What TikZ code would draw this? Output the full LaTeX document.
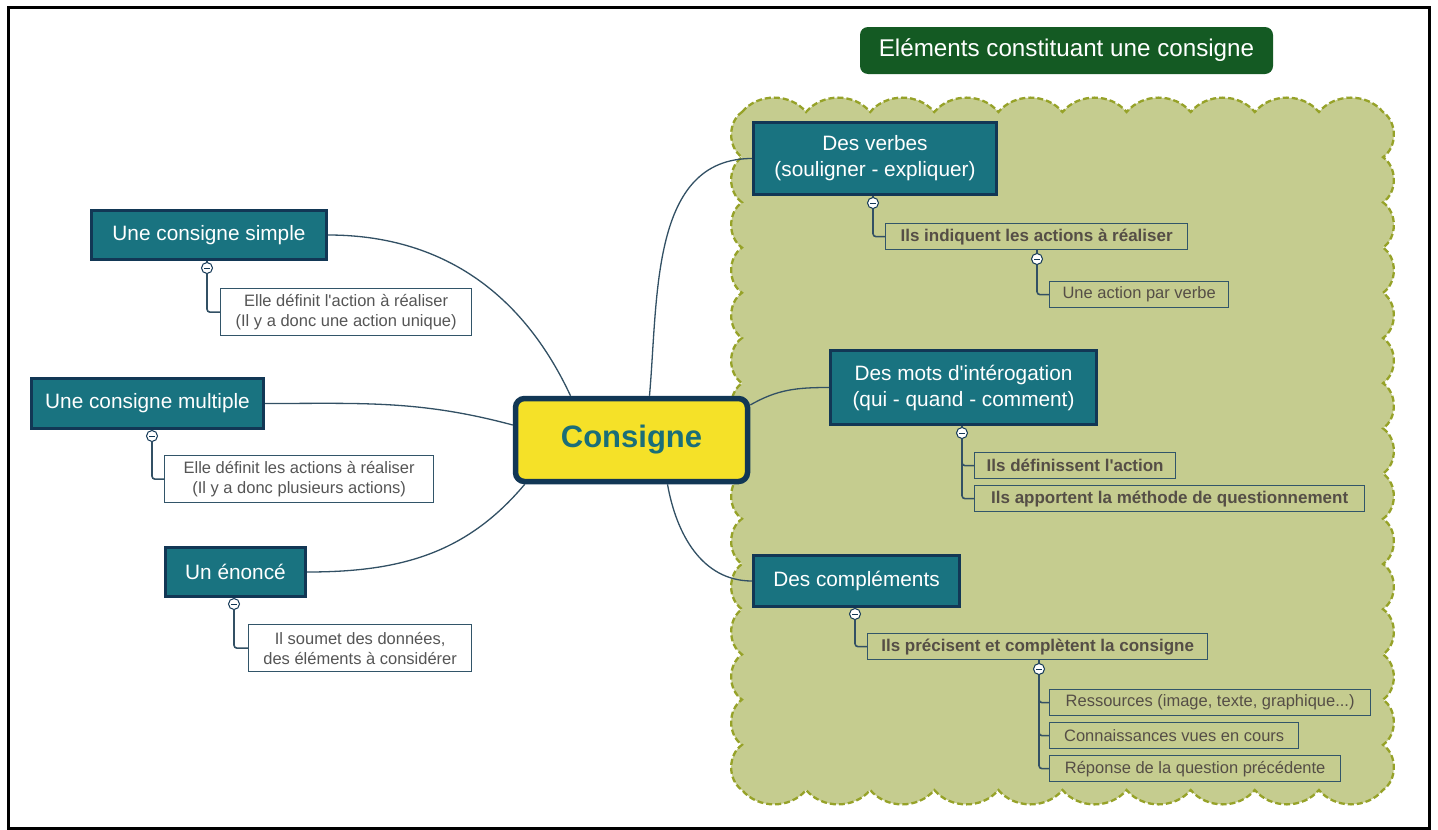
\documentclass[tikz,border=0pt]{standalone}
\usepackage{fontspec}
\setmainfont{Liberation Sans}[Ligatures=TeXOff]
\definecolor{tealfill}{RGB}{25,115,128}
\definecolor{navyb}{RGB}{18,55,85}
\definecolor{consyellow}{RGB}{245,225,40}
\definecolor{constext}{RGB}{26,110,120}
\definecolor{titlegreen}{RGB}{20,90,35}
\definecolor{cloudfill}{RGB}{197,204,143}
\definecolor{clouddash}{RGB}{150,162,40}
\definecolor{subborder}{RGB}{50,85,105}
\definecolor{subtext}{RGB}{85,85,85}
\definecolor{rsubtext}{RGB}{85,78,70}
\definecolor{connc}{RGB}{50,80,100}
\begin{document}
\begin{tikzpicture}[x=1pt,y=-1pt,
  mainbox/.style={draw=navyb, line width=5.5, fill=consyellow, rounded corners=9,
    minimum width=232, minimum height=83, inner sep=0, text=constext,
    font=\fontsize{31}{36}\selectfont\bfseries},
  branch/.style={draw=navyb, line width=3, fill=tealfill, text=white, inner sep=0,
    align=center, font=\fontsize{20.8}{26}\selectfont, anchor=north west},
  lsub/.style={draw=subborder, line width=1.3, fill=white, text=subtext, inner sep=0,
    align=center, font=\fontsize{16.5}{20}\selectfont, anchor=north west, minimum height=47},
  rsub/.style={draw=subborder, line width=1.3, text=rsubtext, inner sep=0,
    align=center, font=\fontsize{17}{20}\selectfont\bfseries, anchor=north west, minimum height=26},
  rsubn/.style={rsub, font=\fontsize{16.5}{20}\selectfont},
  titlebox/.style={fill=titlegreen, rounded corners=8, text=white, inner sep=0,
    minimum width=413, minimum height=47, font=\fontsize{24.2}{28}\selectfont},
  collapse/.style={circle, draw=navyb, line width=1, fill=white, minimum size=11, inner sep=0,
    path picture={\draw[navyb, line width=0.9] ([xshift=-2.6pt]path picture bounding box.center) -- ([xshift=2.6pt]path picture bounding box.center);}},
  conn/.style={draw=connc, line width=1.6, rounded corners=3},
  mainline/.style={draw=connc, line width=1.3}
]
\useasboundingbox (0,0) rectangle (1438,830);
\fill[white] (0,0) rectangle (1438,830);

% cloud
\filldraw[fill=cloudfill, draw=clouddash, line width=2.3, dash pattern=on 6pt off 3pt]
 (742,112) \foreach \k in {1,...,10}{ to[bend left=50] ++(64.1,0) }
 \foreach \k in {1,...,15}{ to[bend left=55] ++(0,45.2) }
 \foreach \k in {1,...,10}{ to[bend left=50] ++(-64.1,0) }
 \foreach \k in {1,...,15}{ to[bend left=55] ++(0,-45.2) } -- cycle;

% frame
\draw[line width=3] (8,7) rectangle (1429,828);

% title
\node[titlebox] (title) at (1066.5,50.5) {Eléments constituant une consigne};

% central node
\node[mainbox] (cons) at (631.5,440) {Consigne};

% left branches
\node[branch, minimum width=235, minimum height=49] (simple) at (90,209) {Une consigne simple};
\node[branch, minimum width=232, minimum height=50] (multi) at (30,377) {Une consigne multiple};
\node[branch, minimum width=140, minimum height=49] (enonce) at (164,546) {Un énoncé};

% right branches
\node[branch, minimum width=243, minimum height=72] (verbes) at (752,121) {Des verbes\\(souligner - expliquer)};
\node[branch, minimum width=266, minimum height=74] (mots) at (829,349) {Des mots d'intérogation\\(qui - quand - comment)};
\node[branch, minimum width=206, minimum height=51] (compl) at (752,554) {Des compléments};

% left subs
\node[lsub, minimum width=251] (s1) at (220,288) {Elle définit l'action à réaliser\\(Il y a donc une action unique)};
\node[lsub, minimum width=269] (s2) at (164,455) {Elle définit les actions à réaliser\\(Il y a donc plusieurs actions)};
\node[lsub, minimum width=223] (s3) at (248,624) {Il soumet des données,\\des éléments à considérer};

% right subs
\node[rsub, minimum width=302] (r1) at (885,223) {Ils indiquent les actions à réaliser};
\node[rsubn, minimum width=179] (r2) at (1049,281) {Une action par verbe};
\node[rsub, minimum width=201] (r3) at (974,452) {Ils définissent l'action};
\node[rsub, minimum width=390] (r4) at (974,485) {Ils apportent la méthode de questionnement};
\node[rsub, minimum width=340] (r5) at (867,633) {Ils précisent et complètent la consigne};
\node[rsubn, minimum width=321] (r6) at (1049,689) {Ressources (image, texte, graphique...)};
\node[rsubn, minimum width=249] (r7) at (1049,722) {Connaissances vues en cours};
\node[rsubn, minimum width=291] (r8) at (1049,755) {Réponse de la question précédente};

% collapse icons
\node[collapse] (c1) at (207,268) {};
\node[collapse] (c2) at (152,436) {};
\node[collapse] (c3) at (234,604) {};
\node[collapse] (c4) at (873,203) {};
\node[collapse] (c5) at (1037,259) {};
\node[collapse] (c6) at (962,433) {};
\node[collapse] (c7) at (855,614) {};
\node[collapse] (c8) at (1039,669) {};

% elbow connectors
\draw[conn] (c1.north) -- (c1.north |- simple.south);
\draw[conn] (c1.south) |- (s1.west);
\draw[conn] (c2.north) -- (c2.north |- multi.south);
\draw[conn] (c2.south) |- (s2.west);
\draw[conn] (c3.north) -- (c3.north |- enonce.south);
\draw[conn] (c3.south) |- (s3.west);
\draw[conn] (c4.north) -- (c4.north |- verbes.south);
\draw[conn] (c4.south) |- (r1.west);
\draw[conn] (c5.north) -- (c5.north |- r1.south);
\draw[conn] (c5.south) |- (r2.west);
\draw[conn] (c6.north) -- (c6.north |- mots.south);
\draw[conn] (c6.south) |- (r3.west);
\draw[conn] (c6.south) |- (r4.west);
\draw[conn] (c7.north) -- (c7.north |- compl.south);
\draw[conn] (c7.south) |- (r5.west);
\draw[conn] (c8.north) -- (c8.north |- r5.south);
\draw[conn] (c8.south) |- (r6.west);
\draw[conn] (c8.south) |- (r7.west);
\draw[conn] (c8.south) |- (r8.west);

% main curves
\draw[mainline] ([xshift=-61pt]cons.north) to[out=115, in=0] (simple.east);
\draw[mainline] ([yshift=15pt]cons.west) to[out=165, in=0] (multi.east);
\draw[mainline] ([xshift=12pt]cons.south west) to[out=-130, in=0] (enonce.east);
\draw[mainline] ([xshift=18pt]cons.north) to[out=85, in=180] (verbes.west);
\draw[mainline] ([yshift=35pt]cons.east) to[out=30, in=180] (mots.west);
\draw[mainline] ([xshift=36pt]cons.south) to[out=-80, in=180] (compl.west);
\end{tikzpicture}
\end{document}
